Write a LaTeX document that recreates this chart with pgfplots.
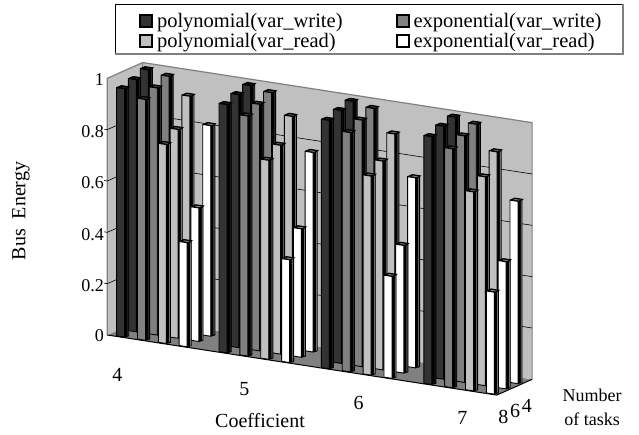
\documentclass[border=0pt]{standalone}
\usepackage{pgfplots}
\pgfplotsset{compat=1.18}
\usepackage{fontspec}
\setmainfont{Liberation Serif}
\definecolor{cA}{HTML}{333333}
\definecolor{cB}{HTML}{808080}
\definecolor{cC}{HTML}{C0C0C0}
\definecolor{cD}{HTML}{FFFFFF}
\newcommand{\onebar}[4]{% group, row(0 front), series, value
  \pgfmathsetmacro{\xa}{#1+0.082+#3*0.2035}%
  \pgfmathsetmacro{\xb}{\xa+0.078}%
  \pgfmathsetmacro{\xc}{\xb+0.005}%
  \pgfmathsetmacro{\xd}{\xc+0.005}%
  \pgfmathsetmacro{\xe}{\xa+0.02}%
  \pgfmathsetmacro{\ya}{0.08+#2}%
  \pgfmathsetmacro{\yb}{\ya+0.14}%
  \pgfmathsetmacro{\yc}{\yb+0.12}%
  \pgfmathsetmacro{\yd}{\yc+0.14}%
  \pgfmathsetmacro{\yf}{\ya+0.13}%
  \pgfmathsetmacro{\yg}{\yd-0.13}%
  \edef\barcol{\ifcase#3 cA\or cB\or cC\or cD\fi}%
  \edef\sidecol{\ifcase#3 black!85\or cA\or cB\or cB\fi}%
  \edef\docmd{%
  \noexpand\addplot3[forget plot,fill=black,draw=black,line width=0.9pt] coordinates {(\xa,\ya,#4)(\xb,\ya,#4)(\xc,\yb,#4)(\xc,\yc,#4)(\xb,\yd,#4)(\xa,\yd,#4)(\xa,\ya,#4)};
  \noexpand\addplot3[forget plot,fill=\barcol!50!black,draw=none] coordinates {(\xe,\yf,#4)(\xb,\yf,#4)(\xb,\yg,#4)(\xe,\yg,#4)(\xe,\yf,#4)};
  \noexpand\addplot3[forget plot,fill=\sidecol,draw=black,line width=0.9pt] coordinates {(\xc,\yb,0)(\xd,\yc,0)(\xd,\yc,#4)(\xc,\yb,#4)(\xc,\yb,0)};
  \noexpand\addplot3[forget plot,fill=black,draw=black,line width=0.9pt] coordinates {(\xb,\ya,0)(\xc,\yb,0)(\xc,\yb,#4)(\xb,\ya,#4)(\xb,\ya,0)};
  \noexpand\addplot3[forget plot,fill=\barcol,draw=black,line width=0.9pt] coordinates {(\xa,\ya,0)(\xb,\ya,0)(\xb,\ya,#4)(\xa,\ya,#4)(\xa,\ya,0)};
  }\docmd
}
\begin{document}
\begin{tikzpicture}[x=1pt,y=1pt]
\path (0,0) rectangle (639,434);
\begin{axis}[
  at={(107.3pt,99pt)}, anchor=origin,
  x={(102.4pt,-15.8pt)}, y={(11.8pt,5.25pt)}, z={(0pt,256.7pt)},
  xmin=0,xmax=3.803,ymin=0,ymax=3,zmin=0,zmax=1,
  clip=false,
  axis line style={draw=none},
  major tick style={draw=none},
  minor tick style={draw=none},
  /pgf/number format/assume math mode=true,
  zticklabel style={font=\fontsize{18}{20}\selectfont},
  xticklabel style={font=\fontsize{20}{22}\selectfont,xshift=6pt,yshift=-18pt},
  yticklabel style={font=\fontsize{20}{22}\selectfont,xshift=-8pt,yshift=-14pt},
  ztick={0,0.2,0.4,0.6,0.8,1},
  zticklabels={0,0.2,0.4,0.6,0.8,1},
  xtick={0.105,1.345,2.46,3.475},
  xticklabels={\raisebox{-10pt}[13pt][0pt]{4},\raisebox{-4pt}[13pt][0pt]{5},\raisebox{-1pt}[13pt][0pt]{6},\raisebox{0pt}[13pt][0pt]{7}},
  ytick={0.5,1.5,2.5},
  yticklabels={8,6,4},
  legend style={at={(0.5,1.12)},anchor=north,xshift=52pt,yshift=14pt,draw=none,fill=none,font=\fontsize{20.5}{21}\selectfont,
    /tikz/every even column/.append style={column sep=52pt},
    /tikz/every odd column/.append style={column sep=3pt},
    row sep=1pt,cells={anchor=west}},
  legend columns=2,
  legend cell align=left,
  legend image post style={line width=2pt,mark size=6pt},
]
\addlegendimage{only marks,mark=square*,mark size=6pt,mark options={fill=cA,draw=black,line width=2pt}}
\addlegendentry{polynomial(var\_write)}
\addlegendimage{only marks,mark=square*,mark size=6pt,mark options={fill=cB,draw=black,line width=2pt}}
\addlegendentry{exponential(var\_write)}
\addlegendimage{only marks,mark=square*,mark size=6pt,mark options={fill=cC,draw=black,line width=2pt}}
\addlegendentry{polynomial(var\_read)}
\addlegendimage{only marks,mark=square*,mark size=6pt,mark options={fill=cD,draw=black,line width=2pt}}
\addlegendentry{exponential(var\_read)}
% floor and walls
\addplot3[forget plot,fill=cB,draw=none] coordinates {(0,0,0)(3.803,0,0)(3.803,3,0)(0,3,0)(0,0,0)};
\addplot3[forget plot,fill=cC,draw=none] coordinates {(0,0,0)(0,3,0)(0,3,1)(0,0,1)(0,0,0)};
\addplot3[forget plot,fill=cC,draw=none] coordinates {(0,3,0)(3.803,3,0)(3.803,3,1)(0,3,1)(0,3,0)};
\addplot3[forget plot,draw=cB,line width=1.2pt] coordinates {(0,0,0)(0,0,1)(0,3,1)(3.803,3,1)(3.803,3,0)};
\addplot3[forget plot,draw=cB,line width=1pt] coordinates {(0,3,1)(0,3,0)};
\addplot3[forget plot,draw=black,line width=1pt] coordinates {(0,0,0)(3.803,0,0)(3.803,3,0)};
% grid
\foreach \v in {0.2,0.4,0.6,0.8}{
  \edef\t{\noexpand\addplot3[forget plot,draw=black,line width=0.6pt] coordinates {(-0.03,0,\v)(0,0,\v)(0,3,\v)(3.803,3,\v)};}\t
}
% back row: tasks 4
\onebar{0}{2}{0}{1.000}\onebar{0}{2}{1}{0.987}\onebar{0}{2}{2}{0.922}\onebar{0}{2}{3}{0.820}
\onebar{1}{2}{0}{1.000}\onebar{1}{2}{1}{0.985}\onebar{1}{2}{2}{0.905}\onebar{1}{2}{3}{0.777}
\onebar{2}{2}{0}{1.000}\onebar{2}{2}{1}{0.985}\onebar{2}{2}{2}{0.898}\onebar{2}{2}{3}{0.740}
\onebar{3}{2}{0}{1.000}\onebar{3}{2}{1}{0.985}\onebar{3}{2}{2}{0.890}\onebar{3}{2}{3}{0.710}
% middle row: tasks 6
\onebar{0}{1}{0}{0.982}\onebar{0}{1}{1}{0.962}\onebar{0}{1}{2}{0.813}\onebar{0}{1}{3}{0.520}
\onebar{1}{1}{0}{0.985}\onebar{1}{1}{1}{0.960}\onebar{1}{1}{2}{0.813}\onebar{1}{1}{3}{0.500}
\onebar{2}{1}{0}{0.985}\onebar{2}{1}{1}{0.960}\onebar{2}{1}{2}{0.813}\onebar{2}{1}{3}{0.497}
\onebar{3}{1}{0}{0.985}\onebar{3}{1}{1}{0.960}\onebar{3}{1}{2}{0.813}\onebar{3}{1}{3}{0.495}
% front row: tasks 8
\onebar{0}{0}{0}{0.967}\onebar{0}{0}{1}{0.938}\onebar{0}{0}{2}{0.775}\onebar{0}{0}{3}{0.405}
\onebar{1}{0}{0}{0.967}\onebar{1}{0}{1}{0.935}\onebar{1}{0}{2}{0.775}\onebar{1}{0}{3}{0.400}
\onebar{2}{0}{0}{0.967}\onebar{2}{0}{1}{0.932}\onebar{2}{0}{2}{0.775}\onebar{2}{0}{3}{0.397}
\onebar{3}{0}{0}{0.965}\onebar{3}{0}{1}{0.930}\onebar{3}{0}{2}{0.775}\onebar{3}{0}{3}{0.397}
\end{axis}
% legend frame
\draw[black,line width=0.8pt] (115,380) |- (623,430);
\draw[cB,line width=1.5pt] (115,380) -- (623,380) -- (623,430);
\node[rotate=90,font=\fontsize{20}{22}\selectfont] at (21,223) {Bus\hspace{10pt}Energy};
\node[font=\fontsize{20}{22}\selectfont] at (260,13) {Coefficient};
\node[font=\fontsize{18}{20}\selectfont,align=center] at (592,27) {Number\\[4pt]of tasks};
\end{tikzpicture}
\end{document}
